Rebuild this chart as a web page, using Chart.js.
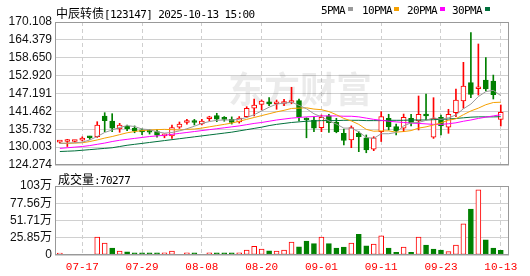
<html>
<head>
<meta charset="utf-8">
<script src="https://cdnjs.cloudflare.com/ajax/libs/Chart.js/4.4.1/chart.umd.min.js"></script>
<style>
  body { margin: 0; background: #fff; }
  #wrap { position: relative; width: 530px; height: 276px; overflow: hidden; }
  canvas { position: absolute; left: 0; top: 0; }
  .t { position: absolute; white-space: nowrap; color: #000; line-height: 14px; }
  .cn { font: 12px 'Noto Sans CJK SC'; }
  .en { font: 11px 'DejaVu Sans Mono'; letter-spacing: -0.6px; }
  .sq { position: absolute; width: 5px; height: 4px; }
</style>
</head>
<body>
<div id="wrap">
  <canvas id="kChart" width="530" height="276"></canvas>
  <canvas id="vChart" width="530" height="276"></canvas>
  <div class="t" style="left:56px;top:4px"><span class="cn">中辰转债</span><span class="en">[123147] 2025-10-13 15:00</span></div>
  <div class="t en" style="left:321px;top:4px">5PMA</div><div class="sq" style="left:348px;top:7px;background:#9a9a9a"></div>
  <div class="t en" style="left:362px;top:4px">10PMA</div><div class="sq" style="left:394px;top:7px;background:#f5a000"></div>
  <div class="t en" style="left:407px;top:4px">20PMA</div><div class="sq" style="left:440px;top:7px;background:#ff00ff"></div>
  <div class="t en" style="left:452px;top:4px">30PMA</div><div class="sq" style="left:485px;top:7px;background:#00703c"></div>
  <div class="t" style="left:58px;top:170px"><span class="cn">成交量</span><span class="en">:70277</span></div>
</div>

<script>
// trading days
const dates = ['07-14','07-15','07-16','07-17','07-18','07-21','07-22','07-23','07-24','07-25',
  '07-28','07-29','07-30','07-31','08-01','08-04','08-05','08-06','08-07','08-08',
  '08-11','08-12','08-13','08-14','08-15','08-18','08-19','08-20','08-21','08-22',
  '08-25','08-26','08-27','08-28','08-29','09-01','09-02','09-03','09-04','09-05',
  '09-08','09-09','09-10','09-11','09-12','09-15','09-16','09-17','09-18','09-19',
  '09-22','09-23','09-24','09-25','09-26','09-29','09-30','10-09','10-10','10-13'];
const xTickLabels = ['07-17','07-29','08-08','08-20','09-01','09-11','09-23','10-13'];

const open = [131.6,131.8,131.8,132.2,133.1,133.35,139.98,138.38,135.81,136.68,
  136.04,135.2,135.0,134.95,133.6,133.57,136.36,137.9,138.3,137.42,
  139.1,140.08,139.1,138.9,138.06,139.76,142.45,143.73,144.56,143.9,
  144.0,144.3,144.89,139.25,138.7,136.23,140.0,137.96,134.43,132.29,
  134.43,133.0,129.31,134.95,139.25,136.55,136.04,139.25,138.38,140.53,
  133.16,139.56,136.36,141.04,144.79,150.66,148.7,151.52,151.2,138.92];
const high = [132.0,132.5,132.2,133.3,133.5,138.15,141.04,140.72,137.64,137.1,
  136.8,135.9,135.6,135.6,134.2,137.1,138.06,138.9,138.9,138.9,
  139.9,140.85,139.8,139.7,139.8,142.96,145.43,145.1,145.85,145.1,
  145.3,149.18,145.43,139.4,139.76,140.3,140.53,139.25,135.81,136.8,
  134.95,133.9,133.35,141.36,140.53,137.4,140.6,140.5,146.39,147.03,
  145.85,140.3,142.13,148.63,157.19,166.68,163.06,158.67,153.1,143.51];
const low = [131.3,130.2,131.6,132.0,132.5,133.1,134.95,134.95,134.76,135.27,
  134.6,134.0,134.2,133.2,133.0,132.8,136.0,137.4,137.1,137.1,
  138.4,138.15,138.3,137.4,137.7,139.56,139.98,141.9,143.28,142.13,
  143.3,143.9,138.38,133.0,134.95,134.95,134.72,134.6,130.69,129.82,
  128.54,128.2,128.86,131.8,135.5,133.9,134.95,136.8,135.5,138.7,
  132.8,133.9,134.43,139.76,142.45,145.85,146.7,147.99,145.43,136.77];
const close = [131.7,131.9,131.85,132.9,133.0,137.1,138.47,136.04,137.1,135.91,
  135.27,134.9,134.8,133.8,133.9,136.28,137.42,138.2,137.9,138.38,
  139.3,139.0,138.9,137.9,139.34,142.45,143.51,144.79,143.83,144.3,
  144.3,144.6,139.76,138.7,136.04,139.56,137.83,134.95,132.12,136.23,
  133.35,129.08,133.0,139.76,136.55,135.17,139.56,137.83,140.53,139.98,
  139.25,136.77,140.53,145.11,149.6,146.93,148.9,148.63,146.85,141.16];

const ma5 = [131.2,131.3,131.4,131.6,132.3,133.4,134.7,135.5,136.3,136.9,
  136.6,135.8,135.6,134.9,134.5,134.7,135.2,135.9,136.7,137.6,
  138.2,138.6,138.7,138.7,138.9,139.5,140.4,141.6,142.8,143.8,
  144.1,144.4,143.4,142.3,140.7,139.7,138.4,137.4,136.1,136.1,
  134.9,133.1,132.8,134.3,134.3,134.7,136.8,137.8,137.9,138.6,
  139.4,138.9,139.4,140.3,142.3,143.8,146.2,147.8,148.2,146.5];
const ma10 = [131.2,131.2,131.3,131.4,131.8,132.3,132.9,133.4,134.0,134.6,
  135.0,135.3,135.5,135.6,135.7,135.6,135.5,135.7,135.8,136.1,
  136.5,136.9,137.3,137.7,138.3,138.9,139.5,140.1,140.7,141.3,
  141.8,142.4,142.5,142.6,142.2,142.0,141.4,140.4,139.2,138.4,
  137.3,135.7,135.1,135.2,135.2,134.8,135.0,135.3,136.1,136.5,
  137.1,137.8,138.6,139.1,140.4,141.6,142.5,143.6,144.3,144.4];
const ma20 = [129.6,129.8,130.0,130.2,130.5,130.9,131.3,131.8,132.2,132.5,
  132.8,133.1,133.4,133.6,133.8,134.1,134.4,134.7,135.0,135.3,
  135.6,135.9,136.2,136.5,136.8,137.2,137.6,137.9,138.3,138.7,
  139.0,139.3,139.5,139.7,139.8,140.0,140.0,140.0,139.9,139.9,
  139.7,139.3,138.9,138.6,138.3,138.1,137.9,137.7,137.6,137.45,
  137.3,137.3,137.5,137.8,138.3,138.7,139.2,139.6,140.0,140.4];
const ma30 = [128.6,128.7,128.8,129.0,129.2,129.4,129.6,129.8,130.2,130.6,
  130.9,131.2,131.5,131.8,132.1,132.4,132.7,133.0,133.3,133.6,
  133.9,134.2,134.5,134.8,135.2,135.6,136.0,136.4,136.9,137.3,
  137.6,137.9,138.1,138.3,138.4,138.5,138.5,138.5,138.6,138.6,
  138.6,138.5,138.5,138.5,138.6,138.6,138.6,138.7,138.7,138.7,
  138.8,138.9,139.0,139.2,139.4,139.6,139.7,139.7,139.7,139.75];

// volume in 万
const vol = [3,1,1,1,1,26.7,18,10.3,5.7,4.6,
  3.1,3.1,3.1,3.1,3.1,5.7,1,3.1,3.1,1,
  3.1,3.1,3.1,3.1,3.1,7.2,12.9,8.7,6.2,5.7,
  7.2,19.5,12.3,21,17,26.7,17,10.3,11.8,18,
  30.9,13.9,16.5,28.8,10.3,4.1,11.8,4.1,26.7,14.9,
  8.7,7.2,5.1,14.9,46.8,68.9,97.7,22.6,10.3,7.03];

const priceTicks = [124.274,130.003,135.732,141.462,147.191,152.920,158.650,164.379,170.108];
const volTicks = [0,25.855,51.71,77.565,103.42];
const volTickLabels = ['0','25.85万','51.71万','77.56万','103万'];

const RED = '#ff0000', GREEN = '#008000';
const tickIdx = xTickLabels.map(d => dates.indexOf(d));
const labelFont = { family: "'Liberation Sans','Noto Sans CJK SC'", size: 12 };

const frame = {
  id: 'frame',
  afterDraw(chart) {
    const a = chart.chartArea, ctx = chart.ctx;
    ctx.save();
    ctx.strokeStyle = '#999';
    ctx.lineWidth = 1;
    ctx.strokeRect(Math.round(a.left) + 0.5, Math.round(a.top) + 0.5,
      Math.round(a.right - a.left) - 1, Math.round(a.bottom - a.top) - 1);
    ctx.restore();
  }
};

const watermark = {
  id: 'watermark',
  beforeDatasetsDraw(chart) {
    const ctx = chart.ctx;
    ctx.save();
    ctx.fillStyle = 'rgba(0,0,0,0.08)';
    ctx.font = "bold 36px 'Noto Sans CJK SC'";
    ctx.textBaseline = 'middle';
    ctx.fillText('东方财富', 228, 89);
    ctx.restore();
  }
};

const xScale = (showLabels) => ({
  type: 'linear',
  offset: false,
  min: -0.65,
  max: 60.1,
  afterBuildTicks: s => { s.ticks = tickIdx.map(v => ({ value: v })); },
  afterFit: s => { s.height = showLabels ? 21 : 0; },
  grid: { color: '#cfcfcf', drawTicks: false, offset: false },
  border: { display: false, dash: [4, 3] },
  ticks: {
    display: showLabels,
    autoSkip: false,
    maxRotation: 0,
    padding: 5,
    color: RED,
    font: { family: "'Liberation Mono'", size: 11 },
    callback: v => dates[v]
  }
});

const yTicks = (fmt) => ({
  color: '#111', font: labelFont, padding: 3, autoSkip: false, callback: fmt
});

// K line chart
const up = close.map((c, i) => c >= open[i]);
new Chart(document.getElementById('kChart'), {
  data: {
    datasets: [
      { type: 'line', data: ma5.map((v, i) => ({ x: i, y: v })), borderColor: '#9a9a9a', borderWidth: 1, pointRadius: 0, order: 0 },
      { type: 'line', data: ma10.map((v, i) => ({ x: i, y: v })), borderColor: '#f5a000', borderWidth: 1, pointRadius: 0, order: 0 },
      { type: 'line', data: ma20.map((v, i) => ({ x: i, y: v })), borderColor: '#ff00ff', borderWidth: 1, pointRadius: 0, order: 0 },
      { type: 'line', data: ma30.map((v, i) => ({ x: i, y: v })), borderColor: '#00703c', borderWidth: 1, pointRadius: 0, order: 0 },
      {
        type: 'bar', grouped: false, order: 1,
        data: open.map((o, i) => ({ x: i, y: [o, close[i]] })),
        barThickness: 5, minBarLength: 2, borderWidth: 1, borderSkipped: false,
        backgroundColor: up.map(u => u ? '#fff' : GREEN),
        borderColor: up.map(u => u ? RED : GREEN)
      },
      {
        type: 'bar', grouped: false, order: 2,
        data: low.map((l, i) => ({ x: i, y: [l, high[i]] })),
        barThickness: 1,
        backgroundColor: up.map(u => u ? RED : GREEN)
      }
    ]
  },
  options: {
    responsive: false,
    animation: false,
    layout: { padding: { top: 22, left: 0, right: 21, bottom: 111 } },
    plugins: { legend: { display: false }, tooltip: { enabled: false } },
    scales: {
      x: xScale(false),
      y: {
        min: 124.274, max: 170.108,
        afterBuildTicks: s => { s.ticks = priceTicks.map(v => ({ value: v })); },
        afterFit: s => { s.width = 55; },
        grid: { color: '#d0d0d0', drawTicks: false },
        border: { display: false },
        ticks: yTicks(v => v.toFixed(3))
      }
    }
  },
  plugins: [watermark, frame]
});

// volume chart
const volUp = close.map((c, i) => c >= (i ? close[i - 1] : open[0]));
new Chart(document.getElementById('vChart'), {
  type: 'bar',
  data: {
    datasets: [{
      data: vol.map((v, i) => ({ x: i, y: v })),
      barThickness: 5, borderWidth: 1, borderSkipped: false,
      backgroundColor: volUp.map(u => u ? '#fff' : GREEN),
      borderColor: volUp.map(u => u ? RED : GREEN)
    }]
  },
  options: {
    responsive: false,
    animation: false,
    layout: { padding: { top: 186, left: 0, right: 21, bottom: 0 } },
    plugins: { legend: { display: false }, tooltip: { enabled: false } },
    scales: {
      x: xScale(true),
      y: {
        min: 0, max: 103.42,
        afterBuildTicks: s => { s.ticks = volTicks.map(v => ({ value: v })); },
        afterFit: s => { s.width = 55; },
        grid: { color: '#d0d0d0', drawTicks: false },
        border: { display: false },
        ticks: yTicks((v, i) => volTickLabels[i])
      }
    }
  },
  plugins: [frame]
});
</script>
</body>
</html>
